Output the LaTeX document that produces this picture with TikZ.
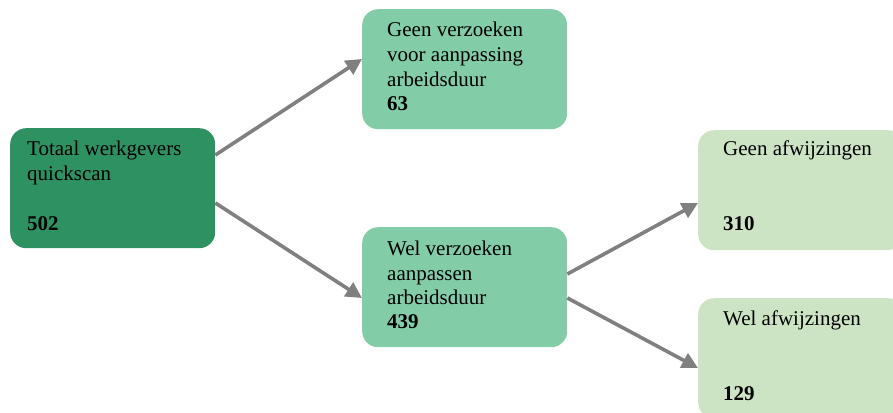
\documentclass[tikz,border=0pt]{standalone}
\usepackage{fontspec}
\setmainfont{Liberation Serif}
\usetikzlibrary{arrows.meta,calc}
\definecolor{darkg}{RGB}{46,145,98}
\definecolor{midg}{RGB}{130,205,168}
\definecolor{lightg}{RGB}{204,228,196}
\definecolor{arrowgray}{RGB}{128,128,128}
\tikzset{
  box/.style={rounded corners=16pt, draw=none, minimum width=205pt, minimum height=120pt, inner sep=0pt, anchor=north west},
  lbl/.style={anchor=base west, inner sep=0pt, font=\fontsize{21pt}{25pt}\selectfont},
  num/.style={lbl, font=\fontsize{21pt}{25pt}\selectfont\bfseries},
  conn/.style={draw=arrowgray, line width=3.6pt, -{Triangle[length=16pt,width=16pt]}}
}
\begin{document}
\begin{tikzpicture}[x=1pt,y=-1pt]
\useasboundingbox (0,0) rectangle (893,412);
\clip (0,0) rectangle (893,412);
\node[box, fill=darkg] (A) at (10,128) {};
\node[box, fill=midg] (B) at (362,9) {};
\node[box, fill=midg] (C) at (362,227) {};
\node[box, fill=lightg] (D) at (698,130) {};
\node[box, fill=lightg] (E) at (698,298) {};

\node[lbl] (a1) at (27,155) {Totaal werkgevers};
\node[lbl] (a2) at (27,180) {quickscan};
\node[num] (a3) at (27,230) {502};

\node[lbl] (b1) at (387,37) {Geen verzoeken};
\node[lbl] (b2) at (387,62) {voor aanpassing};
\node[lbl] (b3) at (387,86) {arbeidsduur};
\node[num] (b4) at (387,110) {63};

\node[lbl] (c1) at (387,255) {Wel verzoeken};
\node[lbl] (c2) at (387,280) {aanpassen};
\node[lbl] (c3) at (387,304) {arbeidsduur};
\node[num] (c4) at (387,328) {439};

\node[lbl] (d1) at (723,155) {Geen afwijzingen};
\node[num] (d2) at (723,230) {310};

\node[lbl] (e1) at (723,325) {Wel afwijzingen};
\node[num] (e2) at (723,400) {129};

\draw[conn] ($(A.north east)+(0,27)$) -- ($(B.north west)+(0,50)$);
\draw[conn] ($(A.north east)+(0,75)$) -- ($(C.north west)+(0,71)$);
\draw[conn] ($(C.north east)+(0,47)$) -- ($(D.north west)+(0,73)$);
\draw[conn] ($(C.north east)+(0,71)$) -- ($(E.north west)+(0,70)$);
\end{tikzpicture}
\end{document}
